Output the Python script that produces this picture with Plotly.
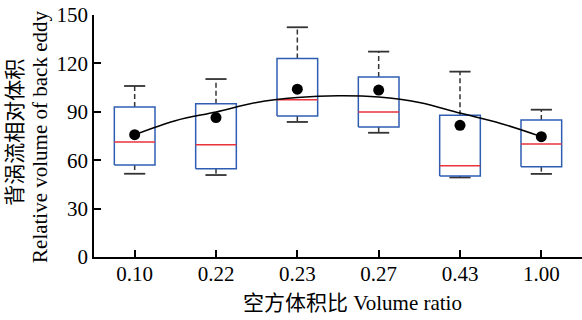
import plotly.graph_objects as go

categories = ["0.10", "0.22", "0.23", "0.27", "0.43", "1.00"]
q1 = [57.0, 54.7, 87.4, 80.6, 50.2, 56.0]
median = [71.3, 69.6, 97.5, 89.9, 56.6, 70.0]
q3 = [93.0, 95.0, 123.0, 111.6, 87.8, 84.9]
lower = [51.6, 50.8, 83.7, 77.0, 49.3, 51.5]
upper = [106.0, 110.3, 142.4, 127.3, 114.9, 91.3]
means = [75.8, 86.4, 104.0, 103.5, 81.6, 74.6]

# fitted trend curve at half-category steps
curve_x = [0, 0.5, 1, 1.5, 2, 2.5, 3, 3.5, 4, 4.5, 5]
curve_y = [75.8, 84.5, 89.9, 95.8, 98.8, 100.0, 99.2, 95.8, 89.2, 82.8, 74.6]

BLUE = "#2F5DB2"
RED = "#E8333D"
DARK = "#333333"
FONT = "Liberation Serif, Times New Roman, Noto Sans CJK SC, serif"

HW = 0.25   # half box width
CW = 0.13   # half cap width

fig = go.Figure()

for i in range(len(categories)):
    # whiskers (dashed)
    fig.add_trace(go.Scatter(x=[i, i, None, i, i], y=[q3[i], upper[i], None, q1[i], lower[i]],
                             mode="lines", line=dict(color=DARK, width=1.5, dash="5px,3px"),
                             hoverinfo="skip", showlegend=False))
    # caps
    fig.add_trace(go.Scatter(x=[i - CW, i + CW, None, i - CW, i + CW],
                             y=[upper[i], upper[i], None, lower[i], lower[i]],
                             mode="lines", line=dict(color=DARK, width=1.8),
                             hoverinfo="skip", showlegend=False))
    # box
    fig.add_trace(go.Scatter(x=[i - HW, i + HW, i + HW, i - HW, i - HW],
                             y=[q1[i], q1[i], q3[i], q3[i], q1[i]],
                             mode="lines", line=dict(color=BLUE, width=1.5),
                             fill="toself", fillcolor="white",
                             hoverinfo="skip", showlegend=False))
    # median
    fig.add_trace(go.Scatter(x=[i - HW, i + HW], y=[median[i], median[i]],
                             mode="lines", line=dict(color=RED, width=1.5),
                             hoverinfo="skip", showlegend=False))

fig.add_trace(go.Scatter(x=curve_x, y=curve_y, mode="lines", line=dict(color="black", width=1.5, shape="spline"),
                         showlegend=False))
fig.add_trace(go.Scatter(x=list(range(len(categories))), y=means, mode="markers",
                         marker=dict(color="black", size=11), showlegend=False))

fig.update_layout(
    width=582, height=320,
    margin=dict(l=94, r=0, t=15, b=63),
    paper_bgcolor="white", plot_bgcolor="white",
    font=dict(family=FONT, size=21, color="black"),
    showlegend=False,
    xaxis=dict(range=[-0.5, 5.5], tickmode="array", tickvals=list(range(len(categories))),
               ticktext=categories, ticks="inside", ticklen=7, tickwidth=1.5, tickcolor="black",
               showline=True, linecolor="black", linewidth=1.5, showgrid=False, zeroline=False,
               ticklabelstandoff=-3,
               tickfont=dict(family=FONT, size=21)),
    yaxis=dict(range=[0, 150], tickmode="array", tickvals=[0, 30, 60, 90, 120, 150],
               ticks="inside", ticklen=7, tickwidth=1.5, tickcolor="black",
               showline=True, linecolor="black", linewidth=1.5, showgrid=False, zeroline=False,
               tickfont=dict(family=FONT, size=21)),
    annotations=[
        dict(text="空方体积比 Volume ratio", xref="paper", yref="paper", x=0.529, y=-0.19,
             xanchor="center", yanchor="middle", showarrow=False, font=dict(family=FONT, size=21)),
        dict(text="背涡流相对体积", xref="paper", yref="paper", x=-0.162, y=0.517,
             xanchor="center", yanchor="middle", textangle=-90, showarrow=False,
             font=dict(family=FONT, size=21)),
        dict(text="Relative volume of back eddy", xref="paper", yref="paper", x=-0.1107, y=0.496,
             xanchor="center", yanchor="middle", textangle=-90, showarrow=False,
             font=dict(family=FONT, size=21)),
    ],
)

fig.write_html("out.html")
